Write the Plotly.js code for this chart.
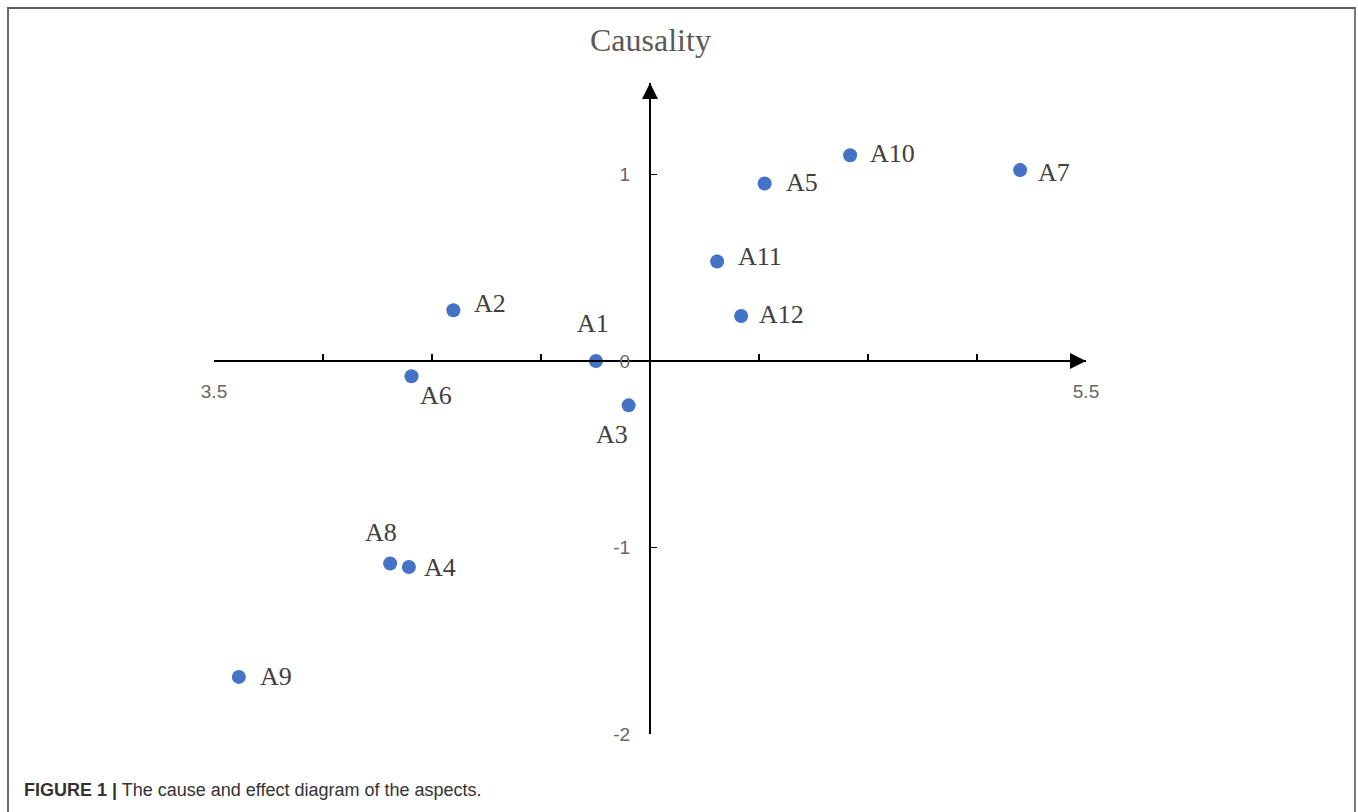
<!DOCTYPE html>
<html>
<head>
<meta charset="utf-8">
<script src="https://cdn.plot.ly/plotly-3.0.1.min.js"></script>
<style>
  html, body { margin: 0; padding: 0; background: #fff; }
  #wrap { position: relative; width: 1358px; height: 812px; overflow: hidden; }
  #chart { position: absolute; left: 0; top: 0; width: 1358px; height: 812px; }
  #frame { position: absolute; left: 7px; top: 7px; width: 1345px; height: 820px;
           border-top: 2px solid #5a5a5a; border-left: 2px solid #6a6a6a; border-right: 2px solid #7a7a7a;
           pointer-events: none; }
</style>
</head>
<body>
<div id="wrap">
  <div id="chart"></div>
  <div id="frame"></div>
</div>
<script>
// ---- data ----
const labels     = ['A1', 'A2', 'A3', 'A4', 'A5', 'A6', 'A7', 'A8', 'A9', 'A10', 'A11', 'A12'];
const centrality = [4.376, 4.049, 4.451, 3.947, 4.763, 3.953, 5.349, 3.904, 3.557, 4.959, 4.654, 4.709];
const causality  = [0.000, 0.272, -0.238, -1.105, 0.951, -0.082, 1.023, -1.086, -1.694, 1.103, 0.533, 0.241];

const xTickVals = [3.5, 3.75, 4.0, 4.25, 4.5, 4.75, 5.0, 5.25, 5.5];
const xTickText = ['3.5', '', '', '', '', '', '', '', '5.5'];
const yTickVals = [-2, -1, 0, 1];
const yTickText = ['-2', '-1', '0', '1'];

// ---- label placement (pixel offsets of label centre from its point) ----
const labelDx = [-3, 37, -17, 31, 37, 24, 34, -9, 37, 42, 43, 40];
const labelDy = [37, 7, -29, 0, 1, -19, -2, 31, 0, 2, 5, 1];

const xRange = [3.5, 5.5];
const yRange = [-2, 1.49];

const trace = {
  type: 'scatter',
  mode: 'markers',
  x: centrality,
  y: causality,
  text: labels,
  marker: { color: '#4472C4', size: 14 },
  hoverinfo: 'text+x+y'
};

const serif = '"Liberation Serif", "Times New Roman", serif';
const sans = '"Liberation Sans", Arial, sans-serif';

const annotations = labels.map((t, i) => ({
  x: centrality[i], y: causality[i], xref: 'x', yref: 'y',
  text: t, showarrow: false,
  xanchor: 'center', yanchor: 'middle',
  xshift: labelDx[i], yshift: labelDy[i],
  font: { family: serif, size: 26, color: '#404040' }
}));

// arrowheads at axis ends
annotations.push({
  x: xRange[1], y: 0, xref: 'x', yref: 'y', text: '',
  showarrow: true, ax: -20, ay: 0, arrowhead: 2, arrowsize: 1.6, arrowwidth: 2, arrowcolor: '#000'
});
annotations.push({
  x: 4.5, y: yRange[1], xref: 'x', yref: 'y', text: '',
  showarrow: true, ax: 0, ay: 20, arrowhead: 2, arrowsize: 1.6, arrowwidth: 2, arrowcolor: '#000'
});

// axis titles
annotations.push({
  x: 4.5, y: 1.066, xref: 'x', yref: 'paper', text: 'Causality', showarrow: false,
  xanchor: 'center', yanchor: 'middle',
  font: { family: serif, size: 32, color: '#595959' }
});
annotations.push({
  x: 5.511, y: -0.414, xref: 'x', yref: 'y', text: 'Centrality', showarrow: false,
  xanchor: 'center', yanchor: 'middle',
  font: { family: serif, size: 32, color: '#595959' }
});

// caption
annotations.push({
  x: -0.2202, y: -0.086, xref: 'paper', yref: 'paper', showarrow: false,
  xanchor: 'left', yanchor: 'middle',
  text: '<b>FIGURE 1 |</b> The cause and effect diagram of the aspects.',
  font: { family: sans, size: 18, color: '#333333' }
});

const layout = {
  width: 1358, height: 812,
  margin: { l: 214, r: 272, t: 83, b: 78, pad: 0 },
  paper_bgcolor: 'rgba(0,0,0,0)',
  plot_bgcolor: 'rgba(0,0,0,0)',
  showlegend: false,
  xaxis: {
    range: xRange, anchor: 'free',
    position: (0 - yRange[0]) / (yRange[1] - yRange[0]),
    showline: true, linecolor: '#000', linewidth: 2,
    ticks: 'inside', ticklen: 6, tickwidth: 1.5, tickcolor: '#000',
    tickmode: 'array', tickvals: xTickVals, ticktext: xTickText,
    ticklabelstandoff: 13,
    tickfont: { family: sans, size: 19, color: '#666666' },
    showgrid: false, zeroline: false, fixedrange: true
  },
  yaxis: {
    range: yRange, anchor: 'free',
    position: (4.5 - xRange[0]) / (xRange[1] - xRange[0]),
    side: 'left',
    showline: true, linecolor: '#000', linewidth: 2,
    ticks: 'inside', ticklen: 6, tickwidth: 1.5, tickcolor: '#000',
    tickmode: 'array', tickvals: yTickVals, ticktext: yTickText,
    ticklabelstandoff: 15,
    tickfont: { family: sans, size: 19, color: '#666666' },
    showgrid: false, zeroline: false, fixedrange: true
  },
  annotations: annotations
};

Plotly.newPlot('chart', [trace], layout, { displayModeBar: false, staticPlot: true });
</script>
</body>
</html>
